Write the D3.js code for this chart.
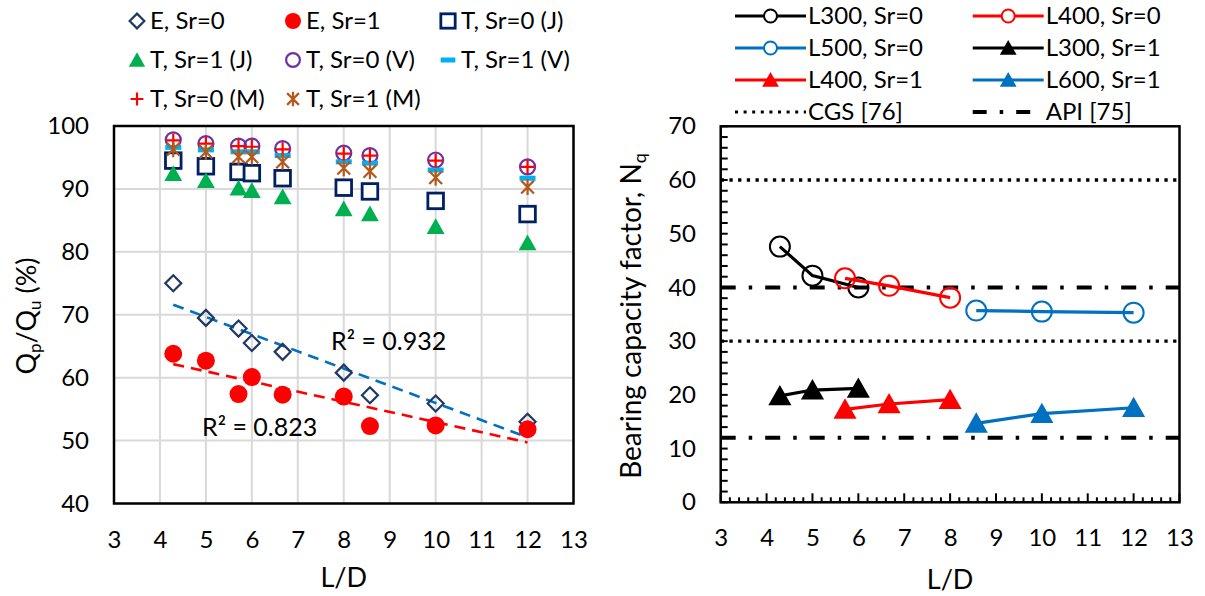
<!DOCTYPE html>
<html>
<head>
<meta charset="utf-8">
<script src="https://cdn.jsdelivr.net/npm/d3@7"></script>
<style>
    body { margin: 0; background: #fff; }
    svg text { font-family: Lato, "Open Sans", sans-serif; fill: #000; }
</style>
</head>
<body>
<div id="chart"></div>
<script>
/* Data - left panel (Qp/Qu) */
var ldLeft   = [4.29, 5, 5.71, 6, 6.67, 8, 8.57, 10, 12];
var expSr0   = [75.0, 69.5, 67.8, 65.5, 64.1, 60.8, 57.2, 55.9, 53.0];
var expSr1   = [63.8, 62.7, 57.4, 60.1, 57.3, 57.0, 52.3, 52.4, 51.8];
var jSr0     = [94.5, 93.6, 92.7, 92.5, 91.7, 90.2, 89.6, 88.1, 86.0];
var jSr1     = [92.4, 91.3, 90.1, 89.7, 88.7, 86.8, 86.0, 84.0, 81.4];
var vSr0     = [97.8, 97.2, 96.8, 96.8, 96.4, 95.7, 95.3, 94.6, 93.5];
var vSr1     = [96.6, 96.2, 95.9, 95.9, 95.3, 94.3, 94.1, 93.0, 91.7];
var mSr0     = [97.7, 97.2, 96.8, 96.7, 96.3, 95.6, 95.3, 94.5, 93.5];
var mSr1     = [96.3, 95.9, 95.1, 95.1, 94.3, 93.3, 92.8, 91.8, 90.3];
var r2Labels = ["R\u00b2 = 0.932", "R\u00b2 = 0.823"];

/* Data - right panel (Nq) */
var ldL300   = [4.29, 5, 6];
var ldL400   = [5.71, 6.67, 8];
var ldL56    = [8.57, 10, 12];
var nqL300s0 = [47.6, 42.2, 40.0];
var nqL400s0 = [41.7, 40.3, 38.1];
var nqL500s0 = [35.7, 35.5, 35.3];
var nqL300s1 = [19.8, 20.9, 21.2];
var nqL400s1 = [17.3, 18.3, 19.1];
var nqL600s1 = [14.7, 16.5, 17.6];
var cgsLines = [30, 60];
var apiLines = [12, 40];

var xTicks      = d3.range(3, 14);
var yTicksLeft  = d3.range(40, 101, 10);
var yTicksRight = d3.range(0, 71, 10);

/* Colours */
var navy = "#1f3864", red = "#ff0000", green = "#00b050", purple = "#7030a0",
    cyan = "#00b0f0", brown = "#b4581c", blue = "#0070c0";

var tickFont = 24, legendFont = 24, titleFont = 27;

var svg = d3.select("#chart").append("svg")
    .attr("width", 1205)
    .attr("height", 596);

/* Marker drawing */
function marker(g, type, x, y, s, color) {
    var el;
    if (type === "diamond") {
        el = g.append("path").attr("d", "M" + x + "," + (y - s) + "L" + (x + s) + "," + y + "L" + x + "," + (y + s) + "L" + (x - s) + "," + y + "Z")
            .attr("fill", "none").attr("stroke", color).attr("stroke-width", 2.2);
    } else if (type === "dot") {
        el = g.append("circle").attr("cx", x).attr("cy", y).attr("r", s).attr("fill", color);
    } else if (type === "square") {
        el = g.append("rect").attr("x", x - s).attr("y", y - s).attr("width", 2 * s).attr("height", 2 * s)
            .attr("fill", "#fff").attr("stroke", color).attr("stroke-width", 2.8);
    } else if (type === "triangle") {
        el = g.append("path").attr("d", "M" + x + "," + (y - s) + "L" + (x + s * 1.05) + "," + (y + s * 0.85) + "L" + (x - s * 1.05) + "," + (y + s * 0.85) + "Z")
            .attr("fill", color);
    } else if (type === "circle") {
        el = g.append("circle").attr("cx", x).attr("cy", y).attr("r", s)
            .attr("fill", "none").attr("stroke", color).attr("stroke-width", 2.2);
    } else if (type === "dash") {
        el = g.append("rect").attr("x", x - s).attr("y", y - 2.5).attr("width", 2 * s).attr("height", 5).attr("fill", color);
    } else if (type === "plus") {
        el = g.append("path").attr("d", "M" + (x - s) + "," + y + "H" + (x + s) + "M" + x + "," + (y - s) + "V" + (y + s))
            .attr("stroke", color).attr("stroke-width", 2.2);
    } else if (type === "asterisk") {
        var d = s * 0.8;
        el = g.append("path").attr("d", "M" + (x - d) + "," + (y - d) + "L" + (x + d) + "," + (y + d) + "M" + (x + d) + "," + (y - d) + "L" + (x - d) + "," + (y + d) + "M" + x + "," + (y - s) + "V" + (y + s))
            .attr("stroke", color).attr("stroke-width", 2.2);
    } else if (type === "ring") {
        el = g.append("circle").attr("cx", x).attr("cy", y).attr("r", s)
            .attr("fill", "#fff").attr("fill-opacity", 0).attr("stroke", color).attr("stroke-width", 2);
    }
    return el;
}

/*
Left panel
*/

var xL = d3.scaleLinear().domain([3, 13]).range([114, 573.5]);
var yL = d3.scaleLinear().domain([40, 100]).range([503.5, 126]);
var left = svg.append("g");

// Gridlines
left.selectAll(".gx").data(xTicks).enter().append("line")
    .attr("x1", xL).attr("x2", xL).attr("y1", yL(40)).attr("y2", yL(100))
    .attr("stroke", "#d9d9d9").attr("stroke-width", 2);
left.selectAll(".gy").data(yTicksLeft).enter().append("line")
    .attr("x1", xL(3)).attr("x2", xL(13)).attr("y1", yL).attr("y2", yL)
    .attr("stroke", "#d9d9d9").attr("stroke-width", 2);

// Axes (labels only)
var axL = left.append("g").attr("transform", "translate(0," + 540 + ")")
    .call(d3.axisBottom(xL).tickValues(xTicks).tickSize(0).tickFormat(d3.format("d")));
var ayL = left.append("g").attr("transform", "translate(" + 89 + ",0)")
    .call(d3.axisLeft(yL).tickValues(yTicksLeft).tickSize(0).tickFormat(d3.format("d")));
[axL, ayL].forEach(function (a) {
    a.select(".domain").remove();
    a.selectAll("text").attr("font-size", tickFont).attr("font-family", "Lato").attr("fill", "#000");
});
axL.selectAll("text").attr("dy", "0.35em").attr("y", 0);
ayL.selectAll("text").attr("x", 0);

// Trendlines (least squares)
function fitLine(xs, ys) {
    var mx = d3.mean(xs), my = d3.mean(ys), sxy = 0, sxx = 0;
    xs.forEach(function (x, i) { sxy += (x - mx) * (ys[i] - my); sxx += (x - mx) * (x - mx); });
    var b = sxy / sxx, a = my - b * mx, x0 = d3.min(xs), x1 = d3.max(xs);
    return [[x0, a + b * x0], [x1, a + b * x1]];
}
var trendLine = d3.line().x(function (d) { return xL(d[0]); }).y(function (d) { return yL(d[1]); });
left.append("path").attr("d", trendLine(fitLine(ldLeft, expSr0)))
    .attr("stroke", blue).attr("stroke-width", 2.6).attr("stroke-dasharray", "11,7").attr("fill", "none");
left.append("path").attr("d", trendLine(fitLine(ldLeft, expSr1)))
    .attr("stroke", red).attr("stroke-width", 2.6).attr("stroke-dasharray", "11,7").attr("fill", "none");

// Series
var leftSeries = [
    {name: "E, Sr=0",     values: expSr0, type: "diamond",  size: 8,   color: navy},
    {name: "E, Sr=1",     values: expSr1, type: "dot",      size: 9,   color: red},
    {name: "T, Sr=0 (J)", values: jSr0,   type: "square",   size: 7.8, color: "#002060"},
    {name: "T, Sr=1 (J)", values: jSr1,   type: "triangle", size: 8.5, color: green},
    {name: "T, Sr=0 (V)", values: vSr0,   type: "circle",   size: 7.5, color: purple},
    {name: "T, Sr=1 (V)", values: vSr1,   type: "dash",     size: 8,   color: cyan},
    {name: "T, Sr=0 (M)", values: mSr0,   type: "plus",     size: 7,   color: red},
    {name: "T, Sr=1 (M)", values: mSr1,   type: "asterisk", size: 8,   color: brown}
];
leftSeries.forEach(function (s) {
    var g = left.append("g");
    s.values.forEach(function (v, i) {
        marker(g, s.type, xL(ldLeft[i]), yL(v), s.size, s.color);
    });
});

// Plot border
left.append("rect").attr("x", xL(3)).attr("y", yL(100)).attr("width", xL(13) - xL(3)).attr("height", yL(40) - yL(100))
    .attr("fill", "none").attr("stroke", "#000").attr("stroke-width", 2.5);

// R squared labels
left.append("text").attr("x", 331).attr("y", 350).attr("font-size", 25).text(r2Labels[0]);
left.append("text").attr("x", 202).attr("y", 436).attr("font-size", 25).text(r2Labels[1]);

// Axis titles
left.append("text").attr("x", xL(8)).attr("y", 578).attr("dy", "0.35em").attr("text-anchor", "middle").attr("font-size", titleFont).text("L/D");
var tl = left.append("text").attr("transform", "translate(36,316) rotate(-90)").attr("text-anchor", "middle").attr("font-size", titleFont);
tl.append("tspan").text("Q");
tl.append("tspan").attr("font-size", 17).attr("dy", 5).text("p");
tl.append("tspan").attr("dy", -5).text("/Q");
tl.append("tspan").attr("font-size", 17).attr("dy", 5).text("u");
tl.append("tspan").attr("dy", -5).text(" (%)");

// Legend
var legColsL = [137, 293, 448], legRowsL = [21, 60, 99];
leftSeries.forEach(function (s, i) {
    var cx = legColsL[i % 3], cy = legRowsL[Math.floor(i / 3)];
    var g = left.append("g");
    marker(g, s.type, cx, cy, s.type === "dot" ? 8 : s.size * 0.92, s.color);
    g.append("text").attr("x", cx + 13).attr("y", cy).attr("dy", "0.35em").attr("font-size", legendFont).text(s.name);
});

/*
Right panel
*/

var xR = d3.scaleLinear().domain([3, 13]).range([720.7, 1179.5]);
var yR = d3.scaleLinear().domain([0, 70]).range([502.3, 126.3]);
var right = svg.append("g");

// Reference lines
cgsLines.forEach(function (v) {
    right.append("line").attr("x1", xR(3)).attr("x2", xR(13)).attr("y1", yR(v)).attr("y2", yR(v))
        .attr("stroke", "#000").attr("stroke-width", 3.3).attr("stroke-dasharray", "3.3,5.4");
});
apiLines.forEach(function (v) {
    right.append("line").attr("x1", xR(3)).attr("x2", xR(13)).attr("y1", yR(v)).attr("y2", yR(v))
        .attr("stroke", "#000").attr("stroke-width", 4).attr("stroke-dasharray", "15,13,3.5,13");
});

// Series
var rightSeries = [
    {name: "L300, Sr=0", xs: ldL300, values: nqL300s0, type: "ring",     color: "#000"},
    {name: "L400, Sr=0", xs: ldL400, values: nqL400s0, type: "ring",     color: red},
    {name: "L500, Sr=0", xs: ldL56,  values: nqL500s0, type: "ring",     color: blue},
    {name: "L300, Sr=1", xs: ldL300, values: nqL300s1, type: "triangle", color: "#000"},
    {name: "L400, Sr=1", xs: ldL400, values: nqL400s1, type: "triangle", color: red},
    {name: "L600, Sr=1", xs: ldL56,  values: nqL600s1, type: "triangle", color: blue}
];
var seriesLine = d3.line();
rightSeries.forEach(function (s) {
    var g = right.append("g");
    var pts = s.values.map(function (v, i) { return [xR(s.xs[i]), yR(v)]; });
    g.append("path").attr("d", seriesLine(pts)).attr("fill", "none").attr("stroke", s.color).attr("stroke-width", 3.2);
    pts.forEach(function (p) {
        marker(g, s.type, p[0], p[1], s.type === "ring" ? 10 : 11, s.color);
    });
});

// Axes with inside ticks
var minorX = d3.range(3, 13.01, 0.2), minorY = d3.range(0, 70.01, 2);
minorX.forEach(function (v) {
    var major = Math.abs(v - Math.round(v)) < 0.01;
    right.append("line").attr("x1", xR(v)).attr("x2", xR(v)).attr("y1", yR(0)).attr("y2", yR(0) - (major ? 9 : 5))
        .attr("stroke", "#000").attr("stroke-width", 2);
});
minorY.forEach(function (v) {
    right.append("line").attr("x1", xR(3)).attr("x2", xR(3) + 7).attr("y1", yR(v)).attr("y2", yR(v))
        .attr("stroke", "#000").attr("stroke-width", 2);
});
right.append("rect").attr("x", xR(3)).attr("y", yR(70)).attr("width", xR(13) - xR(3)).attr("height", yR(0) - yR(70))
    .attr("fill", "none").attr("stroke", "#000").attr("stroke-width", 2.5);

var axR = right.append("g").attr("transform", "translate(0," + 538 + ")")
    .call(d3.axisBottom(xR).tickValues(xTicks).tickSize(0).tickFormat(d3.format("d")));
var ayR = right.append("g").attr("transform", "translate(" + 696 + ",0)")
    .call(d3.axisLeft(yR).tickValues(yTicksRight).tickSize(0).tickFormat(d3.format("d")));
[axR, ayR].forEach(function (a) {
    a.select(".domain").remove();
    a.selectAll("text").attr("font-size", tickFont).attr("font-family", "Lato").attr("fill", "#000");
});
axR.selectAll("text").attr("dy", "0.35em").attr("y", 0);
ayR.selectAll("text").attr("x", 0);

// Axis titles
right.append("text").attr("x", xR(8)).attr("y", 580).attr("dy", "0.35em").attr("text-anchor", "middle").attr("font-size", titleFont).text("L/D");
var tr = right.append("text").attr("transform", "translate(641,316) rotate(-90)").attr("text-anchor", "middle").attr("font-size", 28);
tr.append("tspan").text("Bearing capacity factor, N");
tr.append("tspan").attr("font-size", 18).attr("dy", 5).text("q");

// Legend
var legColsR = [735, 972.7], legRowsR = [16, 48, 80, 112];
rightSeries.forEach(function (s, i) {
    var x0 = legColsR[i % 2], cy = legRowsR[Math.floor(i / 2)];
    var g = right.append("g");
    g.append("line").attr("x1", x0).attr("x2", x0 + 71).attr("y1", cy).attr("y2", cy).attr("stroke", s.color).attr("stroke-width", 3.2);
    marker(g, s.type, x0 + 35.5, cy, s.type === "ring" ? 6.5 : 8, s.color).attr("fill-opacity", s.type === "ring" ? 1 : null);
    g.append("text").attr("x", x0 + 73).attr("y", cy).attr("dy", "0.35em").attr("font-size", legendFont).text(s.name);
});
right.append("line").attr("x1", legColsR[0]).attr("x2", legColsR[0] + 71).attr("y1", legRowsR[3]).attr("y2", legRowsR[3])
    .attr("stroke", "#000").attr("stroke-width", 3).attr("stroke-dasharray", "3,5.6");
right.append("text").attr("x", legColsR[0] + 73).attr("y", legRowsR[3]).attr("dy", "0.35em").attr("font-size", legendFont).text("CGS [76]");
right.append("line").attr("x1", legColsR[1]).attr("x2", legColsR[1] + 58).attr("y1", legRowsR[3]).attr("y2", legRowsR[3])
    .attr("stroke", "#000").attr("stroke-width", 4).attr("stroke-dasharray", "14,13,3.5,13");
right.append("text").attr("x", legColsR[1] + 73).attr("y", legRowsR[3]).attr("dy", "0.35em").attr("font-size", legendFont).text("API [75]");
</script>
</body>
</html>
